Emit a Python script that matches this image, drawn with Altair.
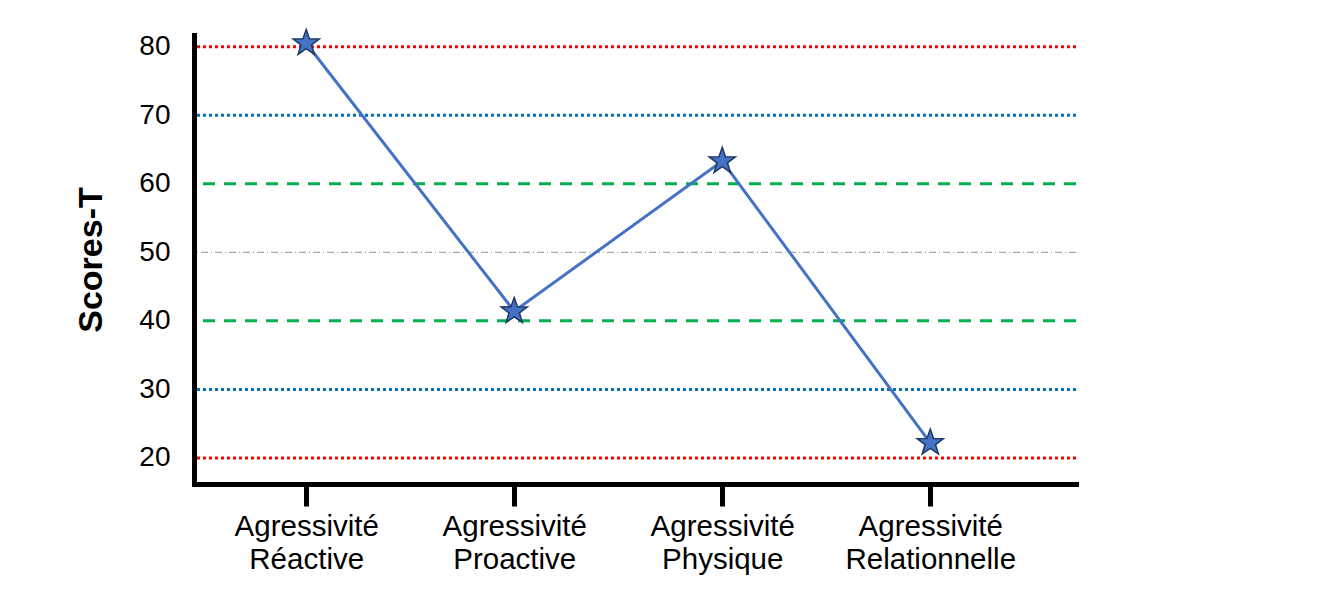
import altair as alt
import pandas as pd

# values
categories = ["Agressivité Réactive", "Agressivité Proactive",
              "Agressivité Physique", "Agressivité Relationnelle"]
scores = [80.5, 41.4, 63.3, 22.2]

y_ticks = [20, 30, 40, 50, 60, 70, 80]
red_levels = [20, 80]
blue_levels = [30, 70]
green_levels = [40, 60]
grey_levels = [50]

source = pd.DataFrame({'category': categories, 'score': scores})

star = ("M0,-1 L0.235,-0.324 L0.951,-0.309 L0.380,0.124 L0.588,0.809 "
        "L0,0.4 L-0.588,0.809 L-0.380,0.124 L-0.951,-0.309 L-0.235,-0.324 Z")

y_scale = alt.Scale(domain=[16.2, 81.7], nice=False, zero=False)


def level_rule(levels, color, dash, width):
    return alt.Chart(pd.DataFrame({'level': levels})).mark_rule(
        color=color, strokeDash=dash, strokeWidth=width
    ).encode(y=alt.Y('level:Q', scale=y_scale))


red = level_rule(red_levels, '#ff0000', [3, 3], 3)
blue = level_rule(blue_levels, '#0070c0', [3, 3], 3)
green = level_rule(green_levels, '#00b050', [12, 9], 3)
grey = level_rule(grey_levels, '#a6a6a6', [7, 3, 1, 3], 1.2)

base = alt.Chart(source).encode(
    x=alt.X('category:N', sort=categories, title=None,
            scale=alt.Scale(type='point', padding=0.62, align=0.435),
            axis=alt.Axis(labelAngle=0, labelExpr="split(datum.label, ' ')",
                          labelFontSize=29.5, labelLineHeight=33,
                          labelPadding=6, labelColor='black',
                          tickSize=22, tickWidth=5, tickColor='black',
                          domainWidth=5, domainColor='black',
                          domainCap='square', zindex=1)),
    y=alt.Y('score:Q', scale=y_scale, title='Scores-T',
            axis=alt.Axis(values=y_ticks, ticks=False, grid=False,
                          labelFontSize=28, labelPadding=24,
                          labelColor='black',
                          titleFontSize=34, titleFontWeight='bold',
                          titlePadding=30, titleColor='black',
                          domainWidth=5, domainColor='black',
                          domainCap='square', zindex=1))
)

line = base.mark_line(color='#4472c4', strokeWidth=3)
points = base.mark_point(shape=star, filled=True, size=760, fill='#4472c4',
                         stroke='#1f3864', strokeWidth=1.5, opacity=1)

chart = alt.layer(red, blue, green, grey, line, points).properties(
    width=882,
    height=449,
    autosize=alt.AutoSizeParams(type='none'),
    padding={'left': 186, 'top': 27, 'right': 60, 'bottom': 100}
).configure(
    font='Liberation Sans'
).configure_view(
    stroke=None
)

chart.save("out.html", embed_options={"renderer": "svg", "actions": False})
